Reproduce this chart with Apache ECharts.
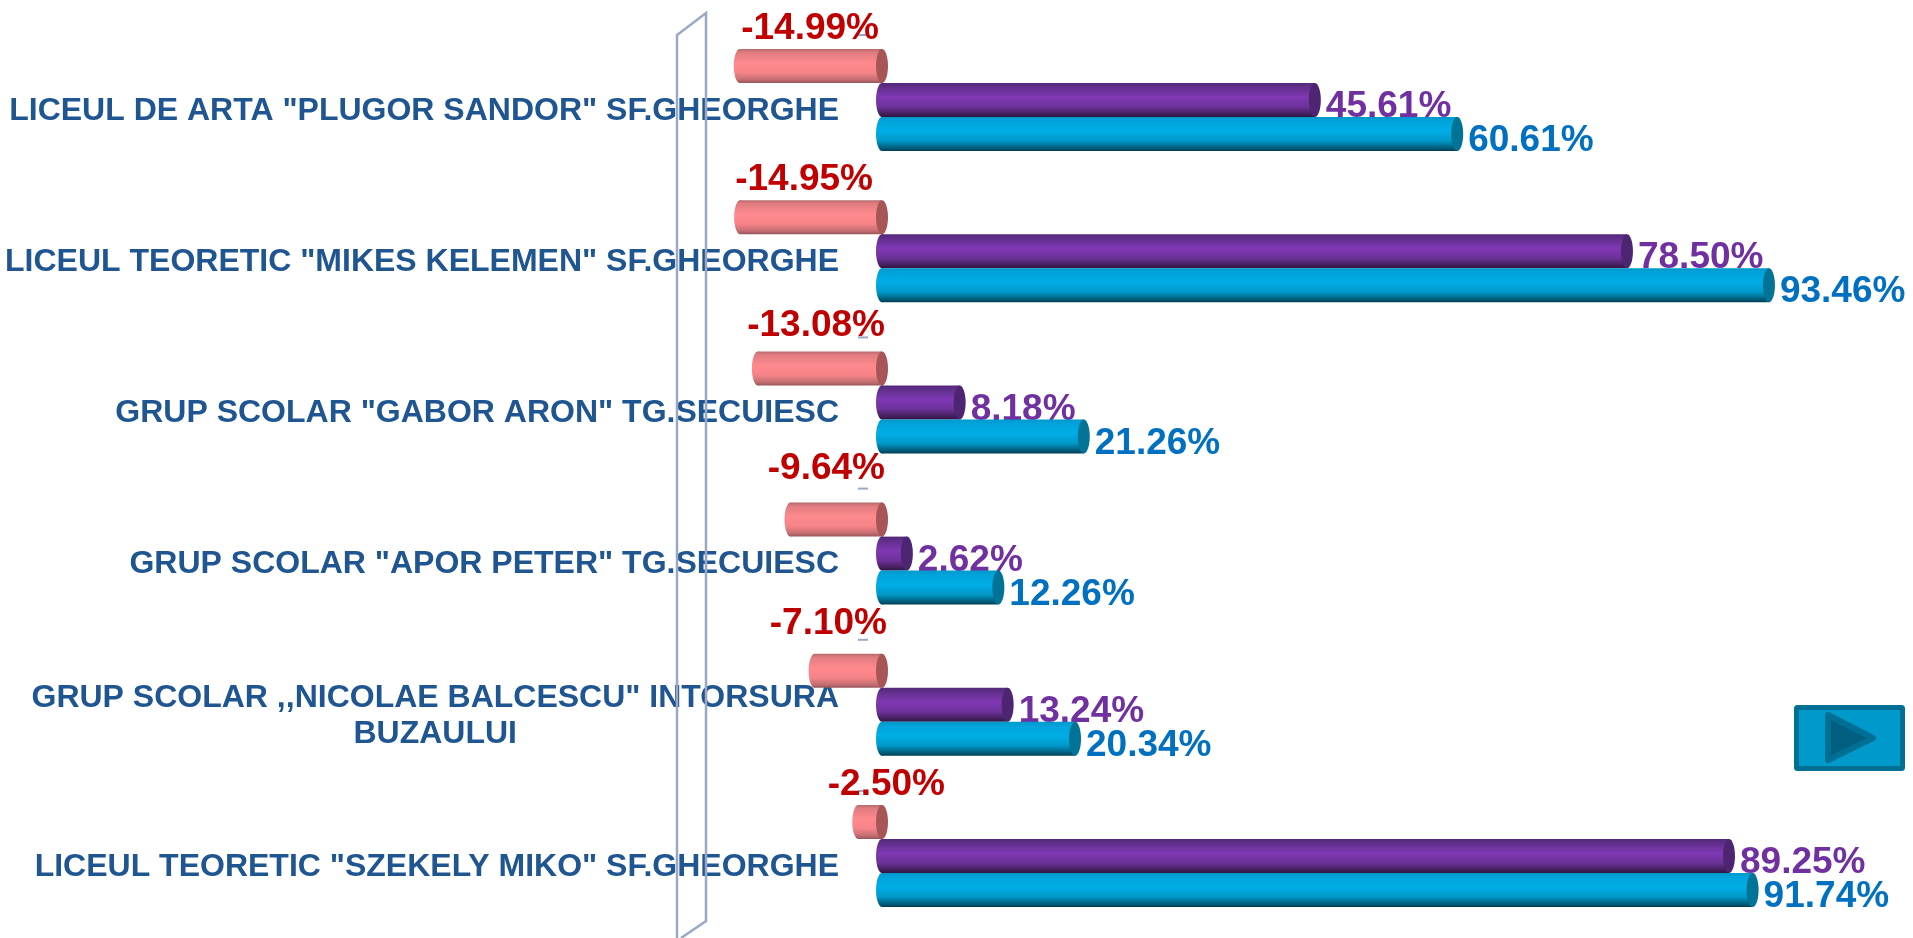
<!DOCTYPE html>
<html>
<head>
<meta charset="utf-8">
<style>html,body{margin:0;padding:0;background:#fff}#c{width:1913px;height:938px}</style>
<script src="https://cdn.jsdelivr.net/npm/echarts@6/dist/echarts.min.js"></script>
</head>
<body>
<div id="c"></div>
<script>
const categories = [
  'LICEUL DE ARTA "PLUGOR SANDOR" SF.GHEORGHE',
  'LICEUL TEORETIC "MIKES KELEMEN" SF.GHEORGHE',
  'GRUP SCOLAR "GABOR ARON" TG.SECUIESC',
  'GRUP SCOLAR "APOR PETER" TG.SECUIESC',
  'GRUP SCOLAR ,,NICOLAE BALCESCU" INTORSURA\nBUZAULUI',
  'LICEUL TEORETIC "SZEKELY MIKO" SF.GHEORGHE'
];
const difference = [-14.99, -14.95, -13.08, -9.64, -7.10, -2.50];
const purpleValues = [45.61, 78.50, 8.18, 2.62, 13.24, 89.25];
const blueValues = [60.61, 93.46, 21.26, 12.26, 20.34, 91.74];

const negLabelNudgeX = [-3, -9, 3, 3, 5, 63];
const negLabelNudgeY = [0, 0, -6, -14, -10, 0];
const FONT = '"Liberation Sans", Arial, sans-serif';
const BAR_H = 34, CAP = 6;

function vgrad(stops) {
  return { type: 'linear', x: 0, y: 0, x2: 0, y2: 1,
    colorStops: stops.map(s => ({ offset: s[0], color: s[1] })) };
}
const styles = [
  { grad: vgrad([[0,'#b56a6d'],[0.1,'#e07c80'],[0.42,'#ff8a8e'],[0.7,'#f58387'],[0.9,'#c56e72'],[1,'#98565a']]), cap: '#a85558', text: '#C00000' },
  { grad: vgrad([[0,'#54287a'],[0.15,'#63308f'],[0.42,'#8038b4'],[0.7,'#6c3299'],[0.9,'#46205f'],[1,'#2e1440']]), cap: '#4e2572', text: '#7030A0' },
  { grad: vgrad([[0,'#0099cc'],[0.15,'#00a5dc'],[0.42,'#00ade6'],[0.7,'#0099c8'],[0.9,'#006080'],[1,'#003f52']]), cap: '#007396', text: '#0070C0' }
];

function makeSeries(values, idx) {
  const st = styles[idx];
  return {
    type: 'custom',
    name: ['diff', 'purple', 'blue'][idx],
    coordinateSystem: 'cartesian2d',
    data: values.map((v, i) => [v, i]),
    encode: { x: 0, y: 1 },
    clip: false,
    renderItem: function (params, api) {
      const v = api.value(0), i = api.value(1);
      const zero = api.coord([0, i]);
      const end = api.coord([v, i]);
      const cy = zero[1] + (idx - 1) * BAR_H;
      const left = Math.min(zero[0], end[0]);
      const right = Math.max(zero[0], end[0]);
      const top = cy - BAR_H / 2;
      const label = v.toFixed(2) + '%';
      const children = [
        { type: 'ellipse', shape: { cx: left, cy: cy, rx: CAP, ry: BAR_H / 2 }, style: { fill: st.grad } },
        { type: 'rect', shape: { x: left, y: top, width: right - left, height: BAR_H }, style: { fill: st.grad } },
        { type: 'ellipse', shape: { cx: right, cy: cy, rx: CAP, ry: BAR_H / 2 }, style: { fill: st.cap } }
      ];
      if (idx === 0) {
        children.push({ type: 'rect', shape: { x: zero[0] - 24, y: cy - 32, width: 10, height: 2 }, style: { fill: '#9AA8C4' } });
        children.push({ type: 'text', z2: 5, style: {
          text: label, x: zero[0] + negLabelNudgeX[i], y: cy - 37 + negLabelNudgeY[i], align: 'right', verticalAlign: 'middle',
          font: 'bold 37px ' + FONT, fill: st.text } });
      } else {
        children.push({ type: 'text', z2: 5, style: {
          text: label, x: end[0] + CAP + 5, y: cy + 7, align: 'left', verticalAlign: 'middle',
          font: 'bold 37px ' + FONT, fill: st.text } });
      }
      return { type: 'group', children: children };
    },
    z: 3 + idx
  };
}

const labelFont = { fontSize: 32, fontWeight: 'bold', fontFamily: FONT, color: '#1F5590', lineHeight: 36 };
const chart = echarts.init(document.getElementById('c'), null, { renderer: 'canvas' });
chart.setOption({
  animation: false,
  backgroundColor: '#fff',
  grid: { left: 692.2, top: 24.4, width: 1138.8, height: 907.2, containLabel: false },
  xAxis: { type: 'value', min: -20, max: 100, show: false, splitLine: { show: false } },
  yAxis: {
    type: 'category',
    data: categories,
    inverse: true,
    axisLine: { show: false },
    axisTick: { show: false },
    splitLine: { show: false },
    axisLabel: {
      margin: -146.8,
      interval: 0,
      align: 'right',
      padding: [22, 0, 0, 0],
      formatter: function (value) {
        const parts = value.split('\n');
        return parts.length > 1
          ? '{m|' + parts[0] + '}\n{n|' + parts[1] + '}'
          : '{m|' + value + '}';
      },
      rich: {
        m: labelFont,
        n: Object.assign({}, labelFont, { padding: [0, 322, 0, 0] })
      }
    }
  },
  series: [makeSeries(difference, 0), makeSeries(purpleValues, 1), makeSeries(blueValues, 2)],
  graphic: [
    { type: 'polyline', z: 10, shape: { points: [[677, 938], [677, 35], [706, 13], [706, 921], [681, 938]] },
      style: { fill: 'none', stroke: '#9AA8C4', lineWidth: 2.5 } },
    { type: 'rect', z: 10, shape: { x: 1796.5, y: 707.5, width: 106, height: 61, r: 1 },
      style: { fill: '#0099CC', stroke: '#006F94', lineWidth: 5 } },
    { type: 'polygon', z: 11, shape: { points: [[1828, 715], [1828, 760], [1873, 738]] },
      style: { fill: '#005F80', stroke: '#006F94', lineWidth: 6, lineJoin: 'round' } }
  ]
});
</script>
</body>
</html>
